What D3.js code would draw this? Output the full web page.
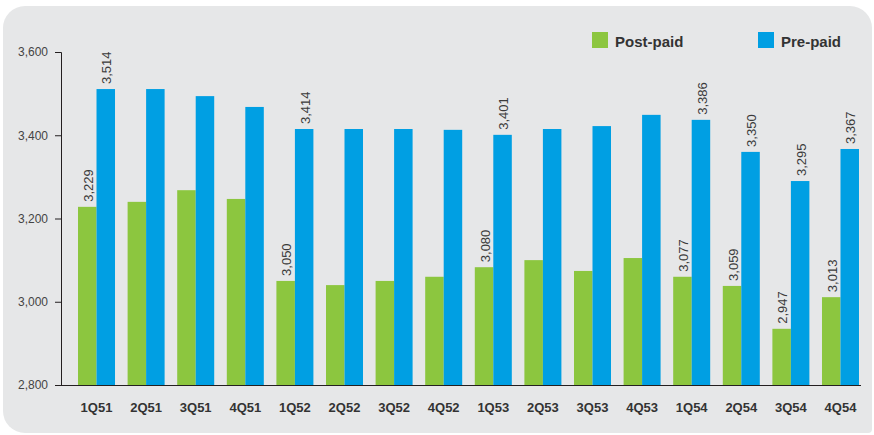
<!DOCTYPE html>
<html><head><meta charset="utf-8">
<script src="https://cdn.jsdelivr.net/npm/d3@7"></script>
<style>
html,body{margin:0;padding:0;background:#fff;}
svg{display:block;font-family:"Liberation Sans",Arial,Helvetica,sans-serif;}
</style></head>
<body>
<svg id="chart" width="874" height="435"></svg>
<script>
const categories = ["1Q51","2Q51","3Q51","4Q51","1Q52","2Q52","3Q52","4Q52","1Q53","2Q53","3Q53","4Q53","1Q54","2Q54","3Q54","4Q54"];
const seriesNames = ["Post-paid","Pre-paid"];
const postPaid = [3228,3240,3268,3247,3050,3040,3050,3060,3083,3100,3074,3105,3060,3038,2935,3011];
const prePaid  = [3511,3511,3494,3468,3415,3415,3415,3413,3401,3415,3422,3449,3437,3360,3290,3367];
const postLabels = ["3,229",null,null,null,"3,050",null,null,null,"3,080",null,null,null,"3,077","3,059","2,947","3,013"];
const preLabels  = ["3,514",null,null,null,"3,414",null,null,null,"3,401",null,null,null,"3,386","3,350","3,295","3,367"];
const yTicks = [2800,3000,3200,3400,3600];
const colors = ["#8cc63f","#009fe3"];

const svg = d3.select("#chart");

// card background
const L=3,T=6,R=872,B=433,r=22,rb=4;
svg.append("path")
  .attr("d",`M${L+r},${T} H${R-r} A${r},${r} 0 0 1 ${R},${T+r} V${B-rb} A${rb},${rb} 0 0 1 ${R-rb},${B} H${L+r} A${r},${r} 0 0 1 ${L},${B-r} V${T+r} A${r},${r} 0 0 1 ${L+r},${T} Z`)
  .attr("fill","#e6e7e8");

const y = d3.scaleLinear().domain([2800,3600]).range([385,52]);
const x = d3.scaleBand().domain(categories).range([61,876]).paddingInner(0.254).paddingOuter(0.343);
const xs = d3.scaleBand().domain([0,1]).range([0,x.bandwidth()]);

const data = categories.map((c,i)=>({c, vals:[postPaid[i],prePaid[i]], labels:[postLabels[i],preLabels[i]]}));

const g = svg.append("g");
const groups = g.selectAll("g.grp").data(data).join("g").attr("class","grp")
  .attr("transform",d=>`translate(${x(d.c)},0)`);

groups.selectAll("rect").data(d=>d.vals.map((v,k)=>({v,k}))).join("rect")
  .attr("x",d=>xs(d.k)).attr("width",xs.bandwidth())
  .attr("y",d=>y(d.v)).attr("height",d=>y(2800)-y(d.v))
  .attr("fill",d=>colors[d.k]);

groups.selectAll("text.val").data(d=>d.vals.map((v,k)=>({v,k,l:d.labels[k]})).filter(e=>e.l)).join("text")
  .attr("class","val")
  .attr("transform",d=>`translate(${xs(d.k)+xs.bandwidth()/2+1},${y(d.v)-5}) rotate(-90)`)
  .attr("dy","0.36em")
  .attr("font-size","13px").attr("fill","#3a3a3a")
  .text(d=>d.l);

// y axis
const yAxis = d3.axisLeft(y).tickValues(yTicks).tickSize(6).tickPadding(7)
  .tickFormat(d3.format(","));
const ya = svg.append("g").attr("transform","translate(61,0)").call(yAxis);
ya.select(".domain").attr("stroke","#231f20").attr("d","M-6,52.5H0.5V385.5");
ya.selectAll(".tick line").attr("stroke","#231f20");
ya.selectAll(".tick text").attr("font-size","12px").attr("fill","#444").attr("font-family","Liberation Sans, Arial, sans-serif");

// x axis
const xAxis = d3.axisBottom(x).tickSize(0).tickPadding(18);
const xa = svg.append("g").attr("transform","translate(0,385)").call(xAxis);
xa.select(".domain").attr("stroke","#231f20").attr("d","M55,0.5H861");
xa.selectAll(".tick text").attr("font-size","13px").attr("font-weight","bold").attr("fill","#333")
  .attr("font-family","Liberation Sans, Arial, sans-serif");

// legend
const legendX = [592,758];
const lg = svg.append("g");
seriesNames.forEach((n,i)=>{
  lg.append("rect").attr("x",legendX[i]).attr("y",32).attr("width",16).attr("height",16).attr("fill",colors[i]);
  lg.append("text").attr("x",legendX[i]+23).attr("y",47).attr("font-size","15px").attr("font-weight","bold")
    .attr("fill","#333").text(n);
});
</script>
</body></html>
